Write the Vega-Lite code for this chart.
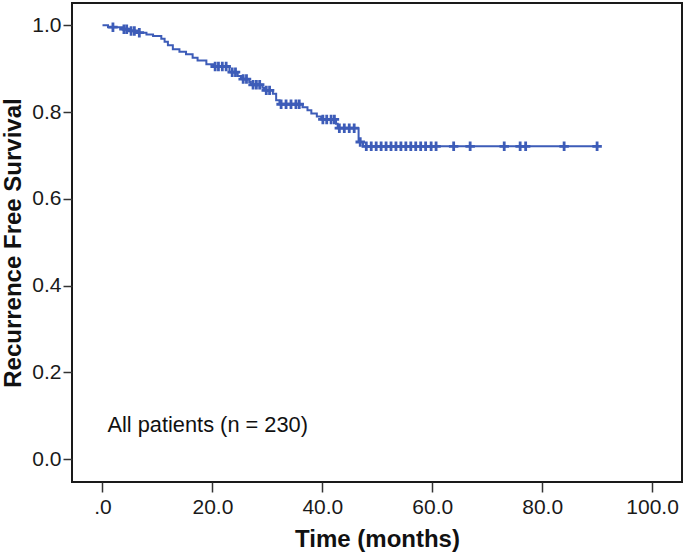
{
  "$schema": "https://vega.github.io/schema/vega-lite/v6.json",
  "width": 610,
  "height": 479,
  "autosize": {"type": "none"},
  "padding": {"left": 72, "top": 3, "right": 3, "bottom": 75},
  "background": "white",
  "config": {
    "view": {"stroke": "#1a1a1a", "strokeWidth": 2},
    "font": "Liberation Sans"
  },
  "datasets": {
    "curve": [
      {"time": 0, "surv": 1.0},
      {"time": 1.0, "surv": 0.9957},
      {"time": 3.6, "surv": 0.991},
      {"time": 4.9, "surv": 0.987},
      {"time": 6.3, "surv": 0.983},
      {"time": 8.0, "surv": 0.979},
      {"time": 9.2, "surv": 0.975},
      {"time": 10.7, "surv": 0.969},
      {"time": 11.3, "surv": 0.962},
      {"time": 11.9, "surv": 0.954},
      {"time": 12.8, "surv": 0.945},
      {"time": 14.0, "surv": 0.939},
      {"time": 15.2, "surv": 0.933},
      {"time": 16.4, "surv": 0.925},
      {"time": 17.3, "surv": 0.919},
      {"time": 18.9, "surv": 0.91},
      {"time": 20.2, "surv": 0.905},
      {"time": 23.1, "surv": 0.892},
      {"time": 24.6, "surv": 0.883},
      {"time": 25.2, "surv": 0.876},
      {"time": 26.7, "surv": 0.869},
      {"time": 27.0, "surv": 0.863},
      {"time": 29.1, "surv": 0.856},
      {"time": 29.4, "surv": 0.85},
      {"time": 31.0, "surv": 0.842},
      {"time": 31.6, "surv": 0.827},
      {"time": 32.2, "surv": 0.818},
      {"time": 36.4, "surv": 0.811},
      {"time": 37.3, "surv": 0.804},
      {"time": 38.0, "surv": 0.797},
      {"time": 39.0, "surv": 0.79},
      {"time": 39.8, "surv": 0.783},
      {"time": 42.5, "surv": 0.773},
      {"time": 42.8, "surv": 0.763},
      {"time": 46.6, "surv": 0.731},
      {"time": 47.4, "surv": 0.721},
      {"time": 90.0, "surv": 0.721}
    ],
    "censored": [
      {"time": 1.9, "surv": 0.9957},
      {"time": 3.9, "surv": 0.991},
      {"time": 4.4, "surv": 0.991},
      {"time": 5.2, "surv": 0.987},
      {"time": 5.8, "surv": 0.987},
      {"time": 6.7, "surv": 0.983},
      {"time": 20.5, "surv": 0.905},
      {"time": 21.1, "surv": 0.905},
      {"time": 21.8, "surv": 0.905},
      {"time": 22.5, "surv": 0.905},
      {"time": 23.6, "surv": 0.892},
      {"time": 24.2, "surv": 0.892},
      {"time": 25.6, "surv": 0.876},
      {"time": 26.2, "surv": 0.876},
      {"time": 27.4, "surv": 0.863},
      {"time": 28.0, "surv": 0.863},
      {"time": 28.6, "surv": 0.863},
      {"time": 29.8, "surv": 0.85},
      {"time": 30.4, "surv": 0.85},
      {"time": 32.5, "surv": 0.818},
      {"time": 33.4, "surv": 0.818},
      {"time": 34.3, "surv": 0.818},
      {"time": 35.2, "surv": 0.818},
      {"time": 35.8, "surv": 0.818},
      {"time": 40.1, "surv": 0.783},
      {"time": 40.8, "surv": 0.783},
      {"time": 41.6, "surv": 0.783},
      {"time": 42.2, "surv": 0.783},
      {"time": 43.1, "surv": 0.763},
      {"time": 44.0, "surv": 0.763},
      {"time": 44.9, "surv": 0.763},
      {"time": 45.8, "surv": 0.763},
      {"time": 46.9, "surv": 0.731},
      {"time": 48.0, "surv": 0.721},
      {"time": 48.9, "surv": 0.721},
      {"time": 49.8, "surv": 0.721},
      {"time": 50.7, "surv": 0.721},
      {"time": 51.6, "surv": 0.721},
      {"time": 52.5, "surv": 0.721},
      {"time": 53.4, "surv": 0.721},
      {"time": 54.3, "surv": 0.721},
      {"time": 55.2, "surv": 0.721},
      {"time": 56.1, "surv": 0.721},
      {"time": 57.0, "surv": 0.721},
      {"time": 57.9, "surv": 0.721},
      {"time": 58.8, "surv": 0.721},
      {"time": 59.8, "surv": 0.721},
      {"time": 60.7, "surv": 0.721},
      {"time": 63.9, "surv": 0.721},
      {"time": 66.9, "surv": 0.721},
      {"time": 73.1, "surv": 0.721},
      {"time": 76.0, "surv": 0.721},
      {"time": 77.0, "surv": 0.721},
      {"time": 84.0, "surv": 0.721},
      {"time": 90.0, "surv": 0.721}
    ],
    "notes": [
      {"label": "All patients (n = 230)", "time": 0.9, "surv": 0.079}
    ]
  },
  "encoding": {
    "x": {
      "field": "time",
      "type": "quantitative",
      "scale": {"domain": [-5.55, 105.45], "nice": false, "zero": false},
      "axis": {
        "title": "Time (months)",
        "values": [0, 20, 40, 60, 80, 100],
        "labelExpr": "datum.value == 0 ? '.0' : format(datum.value, '.1f')",
        "domain": false,
        "grid": false,
        "ticks": true,
        "tickSize": 10,
        "tickWidth": 1.5,
        "tickColor": "#333333",
        "labelFontSize": 21,
        "labelColor": "#1a1a1a",
        "labelPadding": 4,
        "labelFont": "Liberation Sans",
        "titleFont": "Liberation Sans",
        "titleFontSize": 24,
        "titleFontWeight": "bold",
        "titleColor": "#111111",
        "titlePadding": 10
      }
    },
    "y": {
      "field": "surv",
      "type": "quantitative",
      "scale": {"domain": [-0.0523, 1.0513], "nice": false, "zero": false},
      "axis": {
        "title": "Recurrence Free Survival",
        "values": [0, 0.2, 0.4, 0.6, 0.8, 1.0],
        "format": ".1f",
        "domain": false,
        "grid": false,
        "ticks": true,
        "tickSize": 9,
        "tickWidth": 1.5,
        "tickColor": "#333333",
        "labelFontSize": 21,
        "labelColor": "#1a1a1a",
        "labelPadding": 2,
        "labelFont": "Liberation Sans",
        "titleFont": "Liberation Sans",
        "titleFontSize": 24,
        "titleFontWeight": "bold",
        "titleColor": "#111111",
        "titlePadding": 6
      }
    }
  },
  "layer": [
    {
      "data": {"name": "curve"},
      "mark": {"type": "line", "interpolate": "step-after", "color": "#3d5cb8", "strokeWidth": 2}
    },
    {
      "data": {"name": "censored"},
      "mark": {"type": "point", "shape": "M-1,0H1M0,-1V1", "filled": false, "stroke": "#3d5cb8", "strokeWidth": 2.8, "size": 90, "opacity": 1}
    },
    {
      "data": {"name": "notes"},
      "mark": {"type": "text", "align": "left", "baseline": "middle", "fontSize": 21.8, "font": "Liberation Sans", "color": "#111111"},
      "encoding": {
        "text": {"field": "label", "type": "nominal"}
      }
    }
  ]
}
